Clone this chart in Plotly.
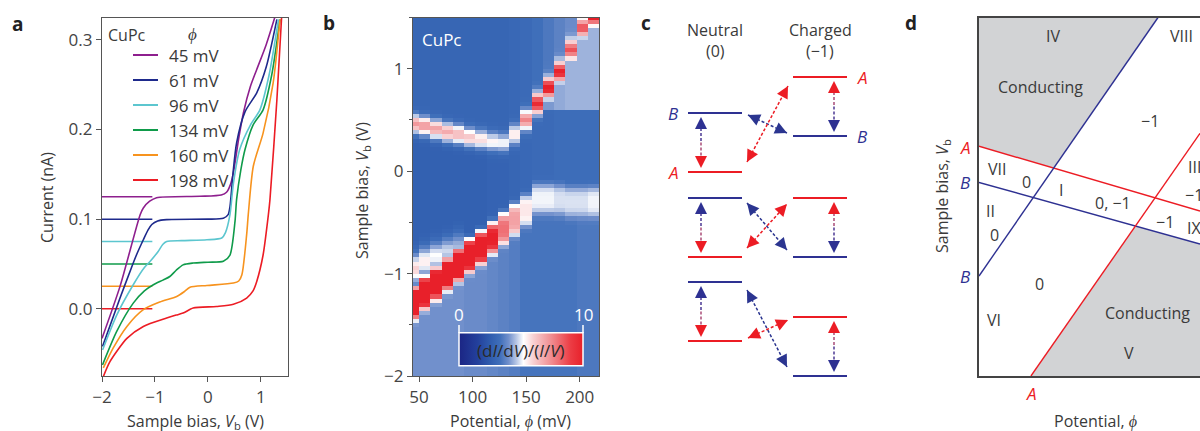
import math
import plotly.graph_objects as go

FONT = "Open Sans"
TXT = "#3a3a3a"
AX = "#555555"
RED = "#ec1c24"
BLUE = "#2e3192"

# ---------------- Panel a : I-V curves ----------------
series_names = ["45 mV", "61 mV", "96 mV", "134 mV", "160 mV", "198 mV"]
series_colors = ["#8e1f8e", "#1e2a8c", "#5cc6cf", "#0f9b4a", "#f7931e", "#ec1c24"]
baseline_offsets = [0.125, 0.100, 0.075, 0.050, 0.025, 0.000]
baseline_x = [-2.0, -1.05]

v_45 = [-2.0, -1.66, -1.28, -1.22, -1.10, -0.97, -0.15, 0.25, 0.35, 0.42, 0.48, 0.58, 0.67, 0.80, 0.92, 1.10, 1.26]
i_45 = [-0.033, 0.025, 0.105, 0.1125, 0.120, 0.124, 0.1255, 0.127, 0.130, 0.138, 0.152, 0.190, 0.219, 0.248, 0.267, 0.295, 0.325]

v_61 = [-1.99, -1.66, -1.45, -1.35, -1.22, -1.13, -1.06, -0.95, -0.78, 0.0, 0.29, 0.38, 0.415, 0.47, 0.54, 0.70, 0.92, 1.10, 1.30]
i_61 = [-0.042, 0.012, 0.045, 0.060, 0.077, 0.088, 0.094, 0.098, 0.0995, 0.100, 0.101, 0.105, 0.114, 0.150, 0.185, 0.220, 0.241, 0.270, 0.323]

v_96 = [-1.99, -1.72, -1.41, -1.20, -1.09, -0.94, -0.85, -0.78, -0.50, -0.02, 0.26, 0.33, 0.415, 0.48, 0.60, 0.80, 0.98, 1.15, 1.33]
i_96 = [-0.046, -0.0067, 0.0268, 0.046, 0.053, 0.064, 0.072, 0.075, 0.076, 0.077, 0.079, 0.085, 0.105, 0.140, 0.178, 0.205, 0.222, 0.260, 0.323]

v_134 = [-1.99, -1.72, -1.41, -1.20, -1.03, -0.85, -0.72, -0.60, -0.47, -0.28, 0.0, 0.29, 0.415, 0.51, 0.54, 0.62, 0.70, 0.85, 1.04, 1.20, 1.36]
i_134 = [-0.0626, -0.025, 0.0063, 0.020, 0.0268, 0.032, 0.036, 0.043, 0.049, 0.051, 0.052, 0.053, 0.060, 0.0975, 0.122, 0.155, 0.178, 0.205, 0.222, 0.260, 0.323]

v_160 = [-1.975, -1.79, -1.53, -1.22, -0.91, -0.59, -0.45, -0.34, -0.02, 0.48, 0.58, 0.64, 0.73, 0.76, 0.855, 1.04, 1.23, 1.36]
i_160 = [-0.066, -0.044, -0.0197, -0.001, 0.0075, 0.0138, 0.019, 0.024, 0.026, 0.0287, 0.031, 0.038, 0.083, 0.105, 0.159, 0.196, 0.252, 0.323]

v_198 = [-1.975, -1.85, -1.53, -1.22, -0.78, -0.60, -0.47, -0.28, 0.16, 0.48, 0.73, 0.85, 0.92, 1.04, 1.14, 1.17, 1.30, 1.39]
i_198 = [-0.0757, -0.059, -0.033, -0.0197, -0.0104, -0.007, -0.0048, 0.0008, 0.0026, 0.005, 0.012, 0.020, 0.0305, 0.060, 0.105, 0.122, 0.233, 0.326]

curves_v = [v_45, v_61, v_96, v_134, v_160, v_198]
curves_i = [i_45, i_61, i_96, i_134, i_160, i_198]

# ---------------- Panel b : dI/dV map ----------------
phi_cols = [45, 55.5, 66, 76.5, 87, 97.5, 108, 118.5, 129, 139.5, 150, 160.5, 171, 181.5, 192, 202.5, 213]
upper_center = [0.46, 0.44, 0.41, 0.38, 0.36, 0.33, 0.31, 0.29, 0.28, 0.36, 0.50, 0.66, 0.81, 0.97, 1.18, 1.40, 1.52]
upper_amp = [7.2, 7.2, 7.0, 6.8, 6.5, 6.2, 5.8, 5.4, 5.2, 5.6, 7.6, 9.6, 10.5, 10.0, 8.6, 8.6, 10.5]
upper_width = [0.085, 0.085, 0.085, 0.085, 0.085, 0.085, 0.085, 0.085, 0.085, 0.09, 0.09, 0.09, 0.09, 0.09, 0.09, 0.09, 0.09]
lower_center = [-1.28, -1.18, -1.09, -1.00, -0.91, -0.82, -0.74, -0.65, -0.56, -0.47, -0.38, -0.27, -0.27, -0.28, -0.30, -0.30, -0.30]
lower_amp = [12, 12, 12, 12, 12, 12, 11.5, 10.0, 8.0, 7.0, 5.6, 5.1, 5.1, 4.9, 4.9, 4.9, 5.1]
shoulder_center = [-0.95, -0.88, -0.83, -0.78, -0.73, 0, 0, 0, 0, 0, 0, 0, 0, 0, 0, 0, 0]
shoulder_amp = [6.0, 5.5, 5.2, 4.8, 4.4, 0, 0, 0, 0, 0, 0, 0, 0, 0, 0, 0, 0]
wake_low = [0, 0, 0, 0, 0, 0, 0, 0, 0, 0, 0, 0, 0.60, 0.62, 0.60, 0.60, 0.62]
wake_amp = [0, 0, 0, 0, 0, 0, 0, 0, 0, 0, 0, 0, 4.1, 4.3, 4.4, 4.4, 4.4]
top_bg = [2.9, 2.9, 2.9, 2.9, 2.9, 2.9, 2.9, 2.9, 2.9, 3.0, 3.1, 3.3, 3.5, 3.7, 3.9, 4.0, 4.0]
mid_bg = [2.7, 2.7, 2.7, 2.7, 2.7, 2.7, 2.7, 2.8, 2.8, 2.9, 3.0, 3.1, 3.1, 3.2, 3.2, 3.2, 3.2]
bot_bg = [4.0, 4.0, 4.0, 4.0, 4.0, 3.9, 3.9, 3.8, 3.7, 3.6, 3.4, 3.4, 3.4, 3.4, 3.4, 3.5, 3.5]
v_rows = [round(-1.98 + 0.04 * k, 3) for k in range(88)]

z = []
for v in v_rows:
    row = []
    for j in range(len(phi_cols)):
        cu, au, cl, al = upper_center[j], upper_amp[j], lower_center[j], lower_amp[j]
        bg = top_bg[j] if v > cu else (bot_bg[j] if v < cl else mid_bg[j])
        val = bg
        val = max(val, bg + (au - bg) * math.exp(-((v - cu) / upper_width[j]) ** 2))
        val = max(val, bg + (al - bg) * math.exp(-((v - cl) / 0.15) ** 4))
        if shoulder_amp[j] > 0:
            val = max(val, bg + (shoulder_amp[j] - bg) * math.exp(-((v - shoulder_center[j]) / 0.13) ** 2))
        if wake_amp[j] > 0 and wake_low[j] <= v <= cu:
            val = max(val, wake_amp[j])
        row.append(min(val, 10.0))
    z.append(row)

colorscale = [[0, "#1b2584"], [0.15, "#23409c"], [0.25, "#2f5cae"], [0.33, "#3f6fba"],
              [0.40, "#7190cc"], [0.46, "#b4c4e4"], [0.52, "#ffffff"], [0.60, "#f8d0d2"],
              [0.75, "#f08a8e"], [0.90, "#ec3c44"], [1.0, "#e8202a"]]

# ---------------- Panel c : level diagram (pixel coordinates) ----------------
c_left_x = [688, 742]
c_right_x = [793, 847]
c_left_blue = [113, 198, 282]
c_left_red = [172, 257, 341]
c_right_red = [77, 198, 317]
c_right_blue = [136, 257, 376]
c_left_arrow_x = 701
c_right_arrow_x = 834
# crossing arrows: (x1, y1, x2, y2, color)
c_cross = [
    (748, 115, 787, 133, "blue"), (747, 162, 788, 86, "red"),
    (747, 203, 787, 250, "blue"), (747, 248, 787, 204, "red"),
    (747, 290, 787, 367, "blue"), (748, 338, 788, 320, "red"),
]

# ---------------- Panel d : phase diagram ----------------
d_A1_x, d_A1_y = [0, 1], [0.641, 0.460]
d_B1_x, d_B1_y = [0, 1], [0.540, 0.368]
d_B2_x, d_B2_y = [0, 0.810], [0.279, 1.0]
d_A2_x, d_A2_y = [0.235, 1], [0, 0.677]
gray1_x, gray1_y = [0, 0, 0.338, 0.810], [1, 0.641, 0.580, 1]
gray2_x, gray2_y = [0.235, 0.708, 1, 1], [0, 0.418, 0.368, 0]

fig = go.Figure()

# panel a traces
for k in range(6):
    fig.add_trace(go.Scatter(x=baseline_x, y=[baseline_offsets[k]] * 2, mode="lines",
                             line=dict(color=series_colors[k], width=1.5), xaxis="x", yaxis="y",
                             showlegend=False, hoverinfo="skip"))
for k in range(6):
    fig.add_trace(go.Scatter(x=curves_v[k], y=curves_i[k], mode="lines", name=series_names[k],
                             line=dict(color=series_colors[k], width=1.6, shape="spline", smoothing=0.7),
                             xaxis="x", yaxis="y", showlegend=False))

# panel b heatmap
fig.add_trace(go.Heatmap(x=phi_cols, y=v_rows, z=z, zmin=0, zmax=10, colorscale=colorscale,
                         xaxis="x2", yaxis="y2", zsmooth=False,
                         colorbar=dict(orientation="h", x=459 / 1200, xanchor="left",
                                       y=1 - 349.5 / 431, yanchor="middle", len=124, lenmode="pixels",
                                       thickness=33, thicknessmode="pixels", outlinecolor="white",
                                       outlinewidth=1.5, showticklabels=False, ticks="", xpad=0, ypad=0,
                                       borderwidth=0)))

# panel d
fig.add_trace(go.Scatter(x=gray1_x, y=gray1_y, fill="toself", fillcolor="#d2d3d5", mode="none",
                         xaxis="x3", yaxis="y3", showlegend=False, hoverinfo="skip"))
fig.add_trace(go.Scatter(x=gray2_x, y=gray2_y, fill="toself", fillcolor="#d2d3d5", mode="none",
                         xaxis="x3", yaxis="y3", showlegend=False, hoverinfo="skip"))
for lx, ly, col in [(d_A1_x, d_A1_y, RED), (d_B1_x, d_B1_y, BLUE), (d_B2_x, d_B2_y, BLUE), (d_A2_x, d_A2_y, RED)]:
    fig.add_trace(go.Scatter(x=lx, y=ly, mode="lines", line=dict(color=col, width=1.4),
                             xaxis="x3", yaxis="y3", showlegend=False, hoverinfo="skip"))

# panel c levels
def seg(x, y, color, width=2, dash=None):
    fig.add_trace(go.Scatter(x=x, y=y, mode="lines", line=dict(color=color, width=width, dash=dash),
                             xaxis="x4", yaxis="y4", showlegend=False, hoverinfo="skip"))

for yb, yr in zip(c_left_blue, c_left_red):
    seg(c_left_x, [yb, yb], BLUE)
    seg(c_left_x, [yr, yr], RED)
for yr, yb in zip(c_right_red, c_right_blue):
    seg(c_right_x, [yr, yr], RED)
    seg(c_right_x, [yb, yb], BLUE)

annotations = []

def head(tx, ty, fx, fy, color):
    dx, dy = tx - fx, ty - fy
    L = math.hypot(dx, dy)
    ux, uy = dx / L, dy / L
    annotations.append(dict(x=tx, y=ty, xref="x4", yref="y4", ax=-ux * 10, ay=-uy * 10, text=" ",
                            showarrow=True, arrowhead=2, arrowsize=1.6, arrowwidth=1.5,
                            arrowcolor=color, font=dict(size=2)))

# vertical arrows
for yb, yr in zip(c_left_blue, c_left_red):
    top, bot = yb + 4, yr - 4
    mid = (top + bot) / 2
    seg([c_left_arrow_x, c_left_arrow_x], [top + 6, mid], "#6a5aa6", 1.8, "3px,2px")
    seg([c_left_arrow_x, c_left_arrow_x], [mid, bot - 6], "#b86a8e", 1.8, "3px,2px")
    head(c_left_arrow_x, top, c_left_arrow_x, bot, BLUE)
    head(c_left_arrow_x, bot, c_left_arrow_x, top, RED)
for yr, yb in zip(c_right_red, c_right_blue):
    top, bot = yr + 4, yb - 4
    mid = (top + bot) / 2
    seg([c_right_arrow_x, c_right_arrow_x], [top + 6, mid], "#b86a8e", 1.8, "3px,2px")
    seg([c_right_arrow_x, c_right_arrow_x], [mid, bot - 6], "#6a5aa6", 1.8, "3px,2px")
    head(c_right_arrow_x, top, c_right_arrow_x, bot, RED)
    head(c_right_arrow_x, bot, c_right_arrow_x, top, BLUE)
for x1, y1, x2, y2, cname in c_cross:
    col = "#2b3590" if cname == "blue" else RED
    seg([x1, x2], [y1, y2], col, 1.5, "3px,2px")
    head(x1, y1, x2, y2, col)
    head(x2, y2, x1, y1, col)

# legend lines panel a
legend_rows = [55, 80, 105, 130, 155, 180]
shapes = []
for k in range(6):
    shapes.append(dict(type="line", xref="x4", yref="y4", x0=133, x1=158, y0=legend_rows[k],
                       y1=legend_rows[k], line=dict(color=series_colors[k], width=2)))
    annotations.append(dict(x=167, y=legend_rows[k], xref="x4", yref="y4", text=series_names[k],
                            showarrow=False, xanchor="left", yanchor="middle",
                            font=dict(size=17, color=TXT, family=FONT)))
# colorbar end ticks
for px in [459, 583]:
    shapes.append(dict(type="line", xref="x4", yref="y4", x0=px, x1=px, y0=325, y1=333,
                       line=dict(color="white", width=1.5)))


def txt(x, y, s, size=16, color=TXT, angle=0, xanchor="center", **kw):
    annotations.append(dict(x=x, y=y, xref="x4", yref="y4", text=s, showarrow=False,
                            xanchor=xanchor, yanchor="middle", textangle=angle,
                            font=dict(size=size, color=color, family=FONT, **kw)))

# panel letters
txt(17, 24, "<b>a</b>", 19, "#222")
txt(329, 23, "<b>b</b>", 19, "#222")
txt(646, 23, "<b>c</b>", 19, "#222")
txt(911, 23, "<b>d</b>", 19, "#222")

# panel a texts
txt(127, 35, "CuPc", 16)
txt(192, 33, "<i>ϕ</i>", 17)
txt(47, 198, "Current (nA)", 16, angle=-90)
txt(195, 421, "Sample bias, <i>V</i><sub>b</sub> (V)", 16)

# panel b texts
txt(442, 39, "CuPc", 17, "white")
txt(362, 191, "Sample bias, <i>V</i><sub>b</sub> (V)", 16, angle=-90)
txt(510, 421, "Potential, <i>ϕ</i> (mV)", 16)
txt(459, 314, "0", 17, "white")
txt(583, 314, "10", 17, "white")
txt(521, 350, "(d<i>I</i>/d<i>V</i>)/(<i>I</i>/<i>V</i>)", 17, "#2a2a2a")

# panel c texts
txt(715, 30, "Neutral", 16)
txt(715, 51, "(0)", 16)
txt(820, 30, "Charged", 16)
txt(820, 51, "(−1)", 16)
txt(673, 113, "<i>B</i>", 17, BLUE)
txt(673, 172, "<i>A</i>", 17, RED)
txt(862, 77, "<i>A</i>", 17, RED)
txt(862, 136, "<i>B</i>", 17, BLUE)

# panel d texts
txt(1053, 36, "IV", 16)
txt(1168, 36, "VIII", 16, xanchor="left")
txt(1040, 87, "Conducting", 16)
txt(1150, 121, "−1", 16)
txt(997, 169, "VII", 16)
txt(1026, 182, "0", 16)
txt(1061, 190, "I", 16)
txt(1186, 167, "III", 16, xanchor="left")
txt(1183, 195, "−1", 16, xanchor="left")
txt(1113, 203, "0, −1", 16)
txt(984, 211, "II", 16, xanchor="left")
txt(994, 235, "0", 16)
txt(1165, 222, "−1", 16)
txt(1185, 228, "IX", 16, xanchor="left")
txt(1039, 284, "0", 16)
txt(994, 320, "VI", 16)
txt(1147, 313, "Conducting", 16)
txt(1129, 353, "V", 16)
txt(965, 147, "<i>A</i>", 17, RED)
txt(965, 182, "<i>B</i>", 17, BLUE)
txt(965, 276, "<i>B</i>", 17, BLUE)
txt(1031, 393, "<i>A</i>", 17, RED)
txt(942, 196, "Sample bias, <i>V</i><sub>b</sub>", 16, angle=-90)
txt(1095, 421, "Potential, <i>ϕ</i>", 16)

ydom = [1 - 376 / 431, 1 - 17.5 / 431]
tickf = dict(size=17, color="#444", family=FONT)
common = dict(showgrid=False, zeroline=False, showline=True, linecolor=AX, linewidth=1.2,
              mirror=True, ticks="outside", ticklen=5, tickwidth=1.2, tickcolor=AX, tickfont=tickf)

fig.update_layout(
    width=1200, height=431, margin=dict(l=0, r=0, t=0, b=0, pad=0, autoexpand=False),
    paper_bgcolor="white", plot_bgcolor="rgba(0,0,0,0)",
    font=dict(family=FONT, color=TXT),
    xaxis=dict(domain=[102 / 1200, 288 / 1200], range=[-2, 1.51], tickvals=[-2, -1, 0, 1], anchor="y", **common),
    yaxis=dict(domain=ydom, range=[-0.075, 0.325], tickvals=[0, 0.1, 0.2, 0.3], tickformat=".1f",
               anchor="x", **common),
    xaxis2=dict(domain=[413 / 1200, 599 / 1200], range=[44.4, 218], tickvals=[50, 100, 150, 200],
                anchor="y2", **common),
    yaxis2=dict(domain=ydom, range=[-2, 1.5], tickvals=[-2, -1, 0, 1], anchor="x2",
                minor=dict(dtick=0.5, ticklen=3, tickcolor=AX, ticks="outside"), **common),
    xaxis3=dict(domain=[979 / 1200, 1.0], range=[0, 1], anchor="y3", showgrid=False, zeroline=False,
                showline=True, linecolor="#444", linewidth=1.5, mirror=True, showticklabels=False, ticks=""),
    yaxis3=dict(domain=ydom, range=[0, 1], anchor="x3", showgrid=False, zeroline=False,
                showline=True, linecolor="#444", linewidth=1.5, mirror=False, showticklabels=False, ticks=""),
    xaxis4=dict(domain=[0, 1], range=[0, 1200], anchor="y4", visible=False, fixedrange=True),
    yaxis4=dict(domain=[0, 1], range=[431, 0], anchor="x4", visible=False, fixedrange=True),
    annotations=annotations, shapes=shapes, showlegend=False,
)

fig.write_html("out.html", config={"displayModeBar": False},
               post_script="document.body.style.margin='0px';document.body.style.padding='0px';document.body.style.overflow='hidden';")
